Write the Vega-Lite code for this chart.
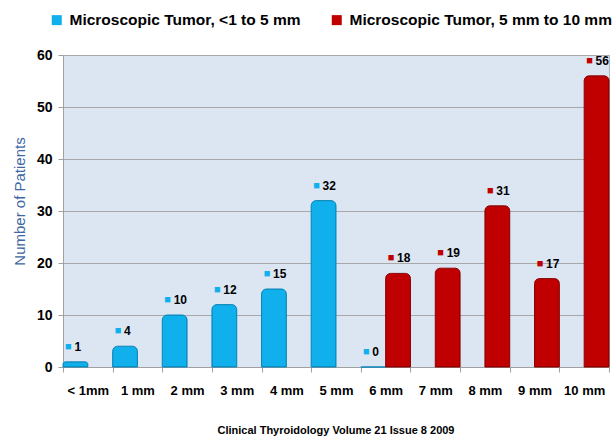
{
  "$schema": "https://vega.github.io/schema/vega-lite/v6.json",
  "autosize": "none",
  "width": 546,
  "height": 312,
  "padding": {"left": 63, "top": 55, "right": 7, "bottom": 71},
  "background": "white",
  "config": {
    "font": "Liberation Sans",
    "view": {"fill": "#DCE6F3", "stroke": "#B0B8C4", "strokeWidth": 1}
  },
  "title": {
    "text": "Clinical Thyroidology Volume 21 Issue 8 2009",
    "orient": "bottom",
    "anchor": "middle",
    "fontSize": 11,
    "fontWeight": "bold",
    "color": "#000000",
    "offset": 28
  },
  "data": {
    "values": [
      {"size": "< 1mm", "series": "Microscopic Tumor, <1 to 5 mm", "value": 1},
      {"size": "1 mm", "series": "Microscopic Tumor, <1 to 5 mm", "value": 4},
      {"size": "2 mm", "series": "Microscopic Tumor, <1 to 5 mm", "value": 10},
      {"size": "3 mm", "series": "Microscopic Tumor, <1 to 5 mm", "value": 12},
      {"size": "4 mm", "series": "Microscopic Tumor, <1 to 5 mm", "value": 15},
      {"size": "5 mm", "series": "Microscopic Tumor, <1 to 5 mm", "value": 32},
      {"size": "6 mm", "series": "Microscopic Tumor, <1 to 5 mm", "value": 0},
      {"size": "6 mm", "series": "Microscopic Tumor, 5 mm to 10 mm", "value": 18},
      {"size": "7 mm", "series": "Microscopic Tumor, 5 mm to 10 mm", "value": 19},
      {"size": "8 mm", "series": "Microscopic Tumor, 5 mm to 10 mm", "value": 31},
      {"size": "9 mm", "series": "Microscopic Tumor, 5 mm to 10 mm", "value": 17},
      {"size": "10 mm", "series": "Microscopic Tumor, 5 mm to 10 mm", "value": 56}
    ]
  },
  "encoding": {
    "x": {
      "field": "size",
      "type": "nominal",
      "sort": ["< 1mm", "1 mm", "2 mm", "3 mm", "4 mm", "5 mm", "6 mm", "7 mm", "8 mm", "9 mm", "10 mm"],
      "scale": {"paddingInner": 0, "paddingOuter": 0},
      "axis": {
        "title": null,
        "labelAngle": 0,
        "labelFontSize": 13,
        "labelFontWeight": "bold",
        "labelColor": "#000000",
        "labelPadding": 12,
        "tickBand": "extent",
        "tickSize": 5,
        "tickColor": "#A0A0A0",
        "domainColor": "#A0A0A0",
        "grid": false
      }
    },
    "xOffset": {
      "field": "series",
      "type": "nominal",
      "scale": {"domain": ["Microscopic Tumor, <1 to 5 mm", "Microscopic Tumor, 5 mm to 10 mm"], "paddingInner": 0, "paddingOuter": 0}
    },
    "y": {
      "field": "value",
      "type": "quantitative",
      "scale": {"domain": [0, 60]},
      "axis": {
        "title": "Number of Patients",
        "titleColor": "#3E67A3",
        "titleFontSize": 15,
        "titleFontWeight": "normal",
        "titlePadding": 9,
        "titleY": 146,
        "titleAlign": "center",
        "values": [0, 10, 20, 30, 40, 50, 60],
        "labelFontSize": 14,
        "labelFontWeight": "bold",
        "labelColor": "#000000",
        "labelPadding": 6,
        "tickSize": 5,
        "tickColor": "#A0A0A0",
        "domainColor": "#A0A0A0",
        "gridColor": "#A8A8A8",
        "gridWidth": 1
      }
    }
  },
  "layer": [
    {
      "mark": {"type": "bar", "cornerRadiusTopLeft": 5, "cornerRadiusTopRight": 5, "strokeWidth": 1},
      "encoding": {
        "color": {
          "field": "series",
          "type": "nominal",
          "scale": {"domain": ["Microscopic Tumor, <1 to 5 mm", "Microscopic Tumor, 5 mm to 10 mm"], "range": ["#10B0EC", "#C00000"]},
          "legend": {
            "title": null,
            "orient": "none",
            "direction": "horizontal",
            "legendX": -14,
            "legendY": -43,
            "symbolType": "square",
            "symbolSize": 100,
            "symbolStrokeWidth": 0,
            "labelFontSize": 15.5,
            "labelFontWeight": "bold",
            "labelColor": "#000000",
            "labelLimit": 400,
            "columnPadding": 28,
            "labelOffset": 5
          }
        },
        "stroke": {
          "field": "series",
          "type": "nominal",
          "scale": {"domain": ["Microscopic Tumor, <1 to 5 mm", "Microscopic Tumor, 5 mm to 10 mm"], "range": ["#0A86B8", "#8A0000"]},
          "legend": null
        }
      }
    },
    {
      "mark": {"type": "text", "text": "■", "fontSize": 11, "align": "center", "baseline": "middle", "dx": -7, "dy": -15},
      "encoding": {
        "color": {"field": "series", "type": "nominal", "legend": null}
      }
    },
    {
      "mark": {"type": "text", "align": "left", "baseline": "middle", "dx": -1, "dy": -15, "fontSize": 12, "fontWeight": "bold", "color": "#000000"},
      "encoding": {
        "text": {"field": "value", "type": "quantitative"}
      }
    }
  ]
}
